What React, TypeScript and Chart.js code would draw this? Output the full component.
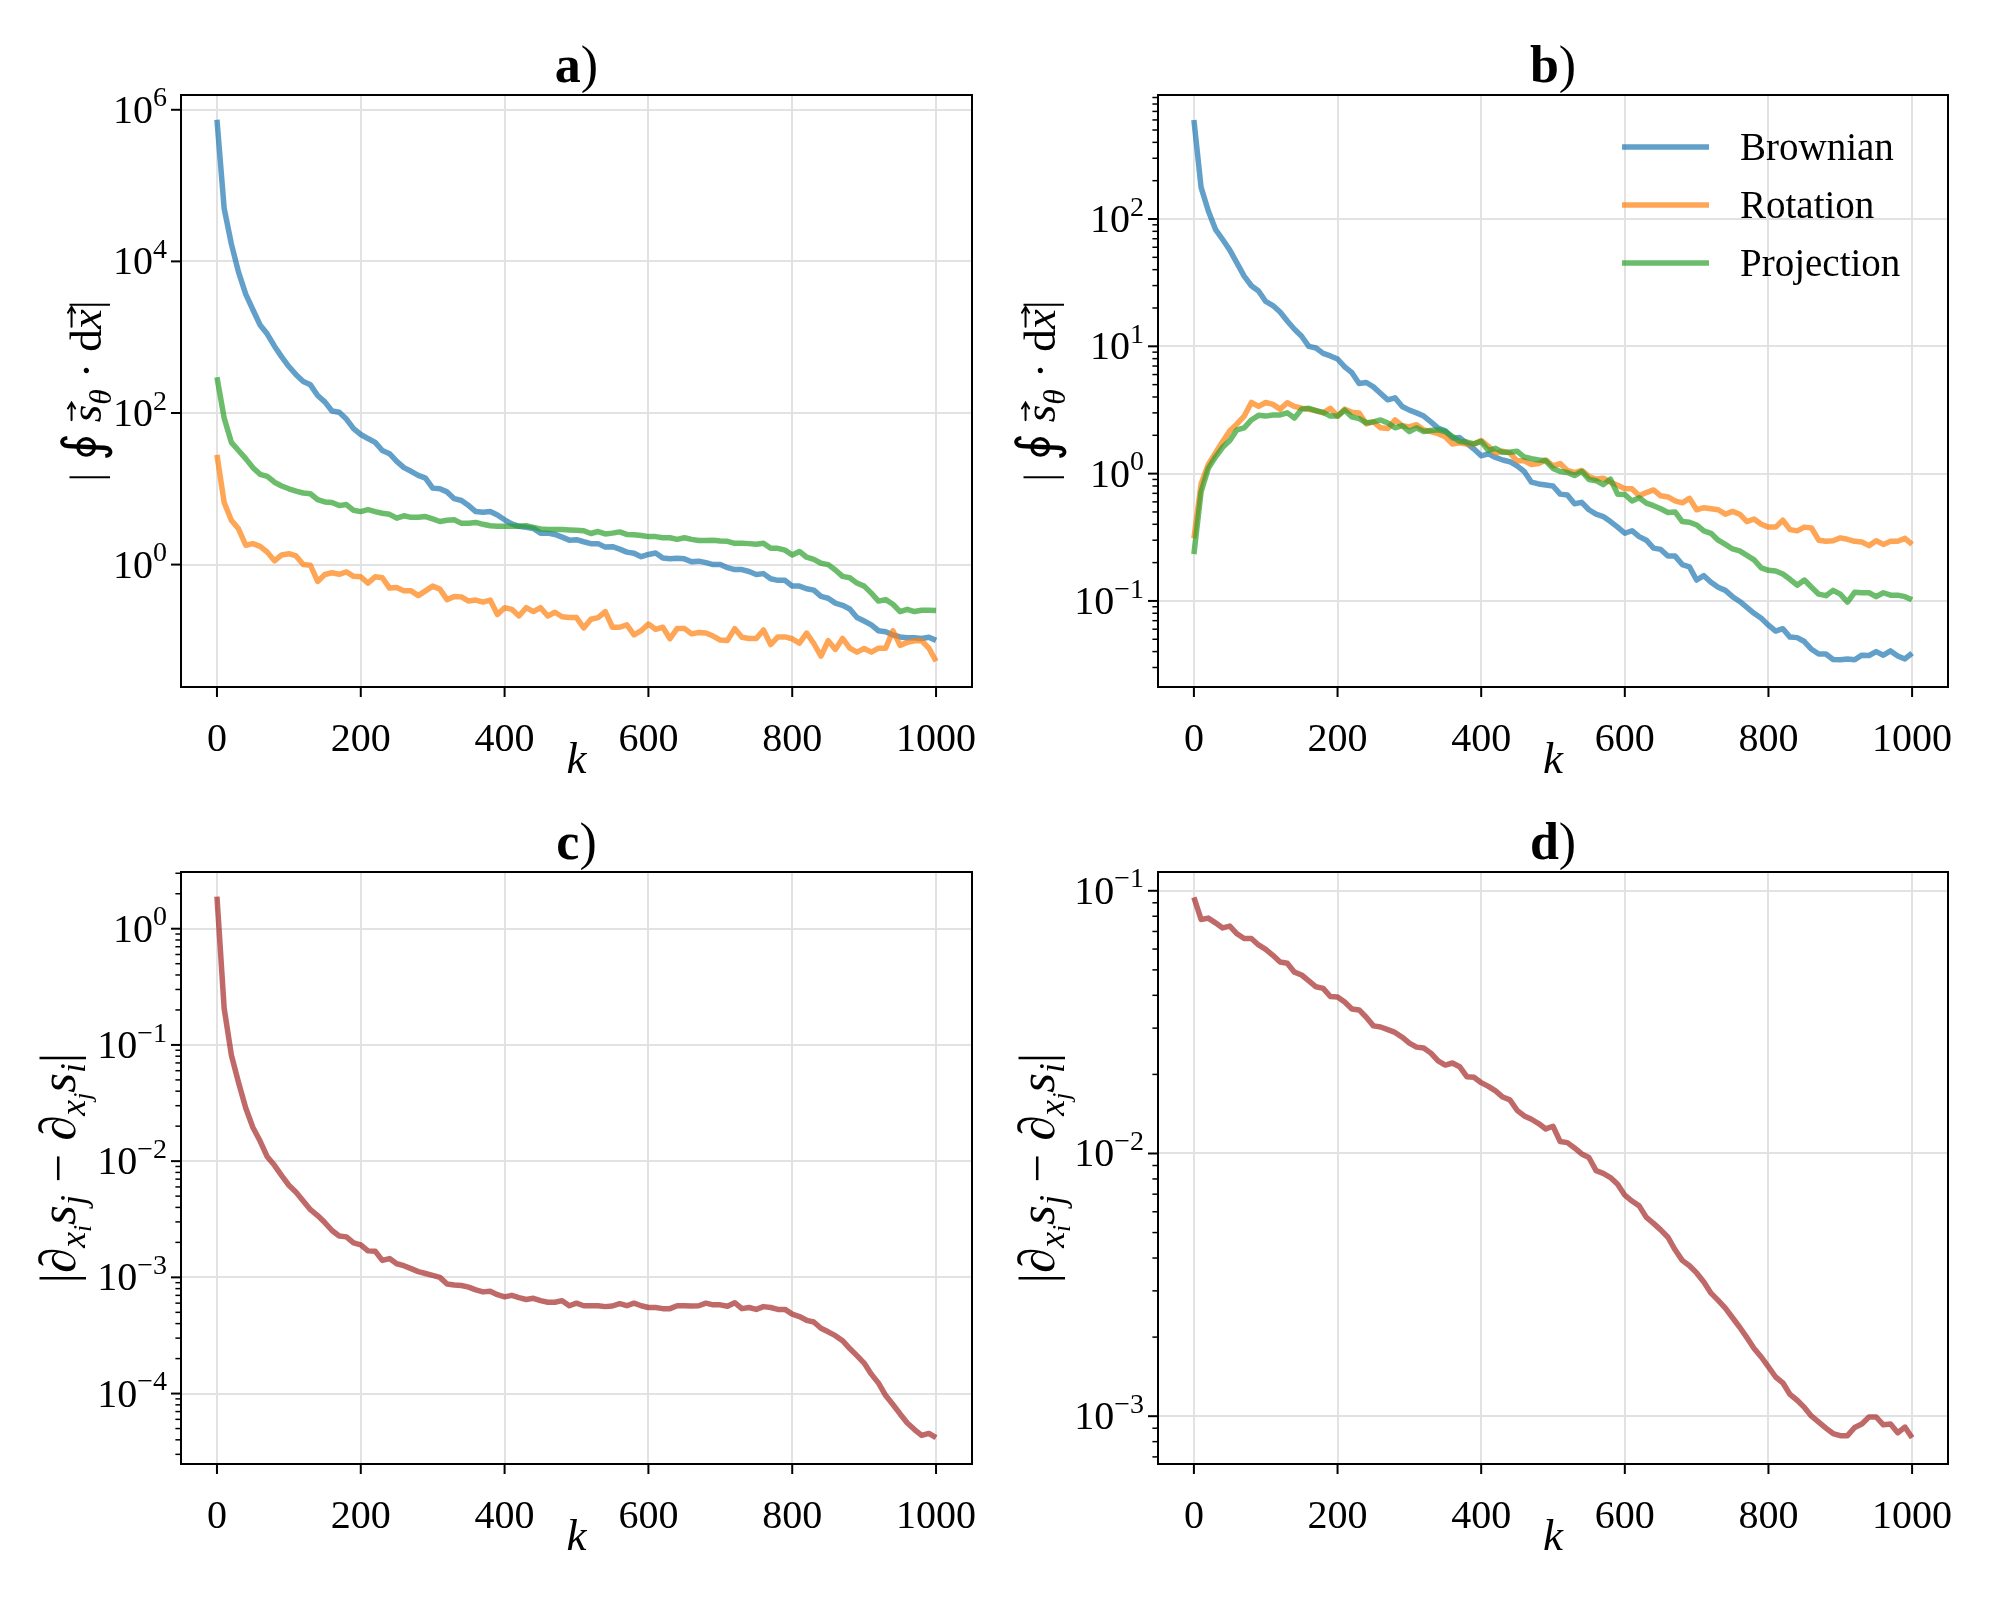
import React, { useEffect, useRef } from 'react';
import { Chart, registerables } from 'chart.js';

Chart.register(...registerables);

const SERIF = '"Liberation Serif", "DejaVu Serif", serif';
const TICK_FS = 40;
const LABEL_FS = 45;
const TITLE_FS = 52;
const LEGEND_FS = 39;
const LINE_W = 5.5;
const GRID = '#e2e2e2';

// ---- data ----
const K = [0, 10, 20, 30, 40, 50, 60, 70, 80, 90, 100, 110, 120, 130, 140, 150, 160, 170, 180, 190, 200, 210, 220, 230, 240, 250, 260, 270, 280, 290, 300, 310, 320, 330, 340, 350, 360, 370, 380, 390, 400, 410, 420, 430, 440, 450, 460, 470, 480, 490, 500, 510, 520, 530, 540, 550, 560, 570, 580, 590, 600, 610, 620, 630, 640, 650, 660, 670, 680, 690, 700, 710, 720, 730, 740, 750, 760, 770, 780, 790, 800, 810, 820, 830, 840, 850, 860, 870, 880, 890, 900, 910, 920, 930, 940, 950, 960, 970, 980, 990, 1000];

const SERIES_LABELS = ['Brownian', 'Rotation', 'Projection'];

const brownianA = [
  7.4e5, 5.0e4, 1.7e4, 7.2e3, 3.7e3, 2.3e3, 1450, 1100, 760, 550,
  410, 320, 260, 235, 170, 140, 106, 102, 83, 62,
  52, 46, 41, 32, 29, 23, 19, 17, 15, 13.8,
  10.2, 10, 9.1, 7.4, 7.0, 6.0, 5.0, 4.9, 5.0, 4.5,
  3.9, 3.45, 3.2, 3.1, 3.0, 2.6, 2.6, 2.5, 2.3, 2.1,
  2.13, 2.0, 1.89, 1.89, 1.7, 1.72, 1.6, 1.46, 1.41, 1.27,
  1.36, 1.42, 1.22, 1.19, 1.21, 1.19, 1.09, 1.11, 1.06, 1.0,
  1.0, 0.91, 0.86, 0.86, 0.81, 0.74, 0.76, 0.65, 0.62, 0.62,
  0.52, 0.52, 0.48, 0.46, 0.38, 0.36, 0.31, 0.29, 0.26, 0.2,
  0.18, 0.16, 0.134, 0.13, 0.118, 0.111, 0.108, 0.108, 0.106, 0.11,
  0.1,
];

const rotationA = [
  28, 6.6, 3.85, 2.96, 1.8, 1.89, 1.74, 1.46, 1.12, 1.34,
  1.39, 1.3, 1.0, 0.98, 0.6, 0.74, 0.78, 0.745, 0.8, 0.7,
  0.69, 0.57, 0.69, 0.67, 0.49, 0.5, 0.45, 0.45, 0.39, 0.45,
  0.52, 0.475, 0.345, 0.38, 0.375, 0.33, 0.34, 0.32, 0.34, 0.22,
  0.27, 0.257, 0.21, 0.27, 0.24, 0.27, 0.21, 0.235, 0.205, 0.2,
  0.2, 0.146, 0.19, 0.2, 0.24, 0.149, 0.149, 0.16, 0.118, 0.134,
  0.164, 0.14, 0.149, 0.105, 0.144, 0.144, 0.122, 0.127, 0.125, 0.114,
  0.101, 0.1, 0.143, 0.11, 0.106, 0.106, 0.137, 0.088, 0.111, 0.111,
  0.105, 0.092, 0.125, 0.091, 0.062, 0.099, 0.076, 0.106, 0.079, 0.07,
  0.078, 0.07, 0.079, 0.079, 0.134, 0.086, 0.094, 0.099, 0.099, 0.079,
  0.053,
];

const projectionA = [
  296, 86, 41, 32, 25, 19, 15.5, 14.6, 12.2, 10.9,
  10, 9.3, 8.8, 8.6, 7.2, 6.7, 6.6, 6.0, 6.2, 5.2,
  5.0, 5.3, 5.0, 4.75, 4.6, 4.1, 4.4, 4.2, 4.2, 4.3,
  4.0, 3.7, 3.85, 3.9, 3.5, 3.5, 3.6, 3.4, 3.25, 3.2,
  3.2, 3.2, 3.2, 3.25, 3.1, 2.95, 2.9, 2.9, 2.9, 2.86,
  2.83, 2.8, 2.57, 2.73, 2.54, 2.6, 2.7, 2.5, 2.48, 2.42,
  2.34, 2.34, 2.26, 2.26, 2.15, 2.26, 2.15, 2.08, 2.08, 2.1,
  2.05, 2.03, 1.91, 1.91, 1.89, 1.85, 1.91, 1.64, 1.64, 1.55,
  1.34, 1.49, 1.25, 1.17, 1.04, 1.0, 0.85, 0.7, 0.67, 0.57,
  0.52, 0.42, 0.33, 0.345, 0.3, 0.24, 0.257, 0.24, 0.25, 0.25,
  0.248,
];

const brownianB = [
  600, 177, 116, 83, 69, 57, 45, 35.6, 29.9, 27.2,
  22.5, 20.9, 18.6, 15.8, 13.6, 12.0, 10, 9.7, 8.8, 8.4,
  7.95, 6.9, 6.2, 5.1, 5.2, 4.8, 4.26, 3.8, 3.94, 3.37,
  3.15, 3.0, 2.83, 2.55, 2.28, 2.17, 1.9, 1.92, 1.73, 1.56,
  1.38, 1.43, 1.34, 1.28, 1.24, 1.15, 1.04, 0.857, 0.83, 0.815,
  0.8, 0.69, 0.68, 0.58, 0.595, 0.52, 0.48, 0.46, 0.42, 0.38,
  0.34, 0.356, 0.32, 0.3, 0.26, 0.254, 0.225, 0.225, 0.193, 0.185,
  0.146, 0.158, 0.14, 0.128, 0.121, 0.108, 0.099, 0.089, 0.08, 0.073,
  0.0645, 0.058, 0.0605, 0.052, 0.0515, 0.048, 0.0417, 0.0383, 0.0383, 0.0347,
  0.0345, 0.035, 0.0345, 0.0375, 0.0373, 0.04, 0.0375, 0.0405, 0.037, 0.035,
  0.0389,
];

const rotationB = [
  0.31, 0.83, 1.18, 1.45, 1.79, 2.17, 2.46, 2.83, 3.62, 3.37,
  3.62, 3.5, 3.21, 3.6, 3.37, 3.26, 3.2, 3.12, 3.0, 3.26,
  2.83, 3.21, 3.03, 3.0, 2.46, 2.55, 2.29, 2.26, 2.64, 2.38,
  2.33, 2.42, 2.2, 2.14, 2.06, 1.95, 1.71, 1.75, 1.71, 1.71,
  1.82, 1.64, 1.45, 1.5, 1.45, 1.26, 1.26, 1.18, 1.2, 1.28,
  1.15, 1.2, 1.06, 1.02, 1.06, 0.95, 0.906, 0.92, 0.857, 0.81,
  0.76, 0.76, 0.67, 0.71, 0.745, 0.67, 0.656, 0.61, 0.59, 0.64,
  0.52, 0.54, 0.53, 0.52, 0.48, 0.505, 0.48, 0.42, 0.44, 0.4,
  0.38, 0.38, 0.43, 0.363, 0.355, 0.38, 0.374, 0.3, 0.294, 0.297,
  0.313, 0.305, 0.294, 0.29, 0.272, 0.297, 0.278, 0.294, 0.294, 0.31,
  0.278,
];

const projectionB = [
  0.233, 0.72, 1.1, 1.35, 1.61, 1.82, 2.21, 2.29, 2.64, 2.87,
  2.83, 2.89, 2.89, 3.0, 2.73, 3.21, 3.26, 3.12, 3.03, 2.83,
  2.83, 3.15, 2.79, 2.7, 2.51, 2.55, 2.64, 2.5, 2.29, 2.38,
  2.14, 2.29, 2.14, 2.18, 2.21, 2.14, 1.96, 1.79, 1.77, 1.71,
  1.79, 1.52, 1.58, 1.47, 1.47, 1.5, 1.35, 1.31, 1.28, 1.26,
  1.1, 1.04, 1.02, 0.965, 1.04, 0.9, 0.88, 0.82, 0.906, 0.69,
  0.685, 0.61, 0.646, 0.586, 0.56, 0.53, 0.495, 0.5, 0.42, 0.415,
  0.395, 0.355, 0.34, 0.3, 0.278, 0.256, 0.247, 0.228, 0.21, 0.182,
  0.174, 0.172, 0.163, 0.148, 0.133, 0.146, 0.128, 0.113, 0.11, 0.121,
  0.113, 0.098, 0.117, 0.116, 0.116, 0.108, 0.116, 0.111, 0.111, 0.108,
  0.102,
];

const asymmetryC = [
  1.89, 0.207, 0.082, 0.0475, 0.0287, 0.0195, 0.0149, 0.0109, 0.0092, 0.0075,
  0.0062, 0.0054, 0.00454, 0.00382, 0.0034, 0.00296, 0.00253, 0.00227, 0.00223, 0.00198,
  0.0019, 0.00169, 0.00168, 0.0014, 0.00145, 0.00131, 0.00126, 0.00119, 0.00112, 0.00108,
  0.00104, 0.001, 0.000877, 0.00086, 0.00085, 0.000824, 0.00078, 0.00075, 0.00076, 0.00071,
  0.00068, 0.0007, 0.00067, 0.000645, 0.00066, 0.00063, 0.00061, 0.00061, 0.00063, 0.00057,
  0.0006, 0.00057, 0.00057, 0.00057, 0.00056, 0.000567, 0.000594, 0.00057, 0.0006, 0.00057,
  0.00055, 0.00055, 0.000538, 0.000538, 0.00057, 0.00057, 0.000567, 0.00057, 0.0006, 0.00058,
  0.00058, 0.000565, 0.000605, 0.000538, 0.00055, 0.00053, 0.00056, 0.00055, 0.00053, 0.00053,
  0.000483, 0.00046, 0.000427, 0.000413, 0.000365, 0.00034, 0.000315, 0.000285, 0.000244, 0.000212,
  0.000183, 0.000147, 0.000123, 0.0000962, 0.0000805, 0.0000668, 0.0000559, 0.000049, 0.0000436, 0.0000454,
  0.0000417,
];

const asymmetryD = [
  0.0944, 0.0778, 0.0787, 0.0755, 0.0722, 0.0734, 0.0686, 0.0658, 0.0658, 0.0622,
  0.0598, 0.0568, 0.0536, 0.053, 0.049, 0.0478, 0.0454, 0.0431, 0.0425, 0.0396,
  0.0394, 0.0377, 0.0355, 0.0352, 0.033, 0.0306, 0.0303, 0.0296, 0.0289, 0.0277,
  0.0263, 0.0254, 0.0252, 0.0241, 0.0225, 0.0217, 0.0221, 0.0214, 0.0196, 0.0195,
  0.0186, 0.018, 0.0173, 0.0164, 0.016, 0.0146, 0.0139, 0.0135, 0.013, 0.0124,
  0.0127, 0.0111, 0.011, 0.0105, 0.00996, 0.00965, 0.0086, 0.0084, 0.0081, 0.00764,
  0.00694, 0.00659, 0.00632, 0.00571, 0.00542, 0.00512, 0.0048, 0.0043, 0.00392, 0.00374,
  0.00351, 0.00324, 0.00294, 0.00276, 0.00258, 0.00237, 0.00218, 0.00199, 0.00181, 0.00168,
  0.00154, 0.00141, 0.00134, 0.00121, 0.00115, 0.00108, 0.001, 0.00095, 0.000901, 0.000859,
  0.000843, 0.000843, 0.000906, 0.000934, 0.000993, 0.000993, 0.000927, 0.000934, 0.000865, 0.000909,
  0.000828,
];

const X_TICKS = [0, 200, 400, 600, 800, 1000];

const C_BLUE = 'rgba(31,119,180,0.7)';
const C_ORANGE = 'rgba(255,127,14,0.7)';
const C_GREEN = 'rgba(44,160,44,0.7)';
const C_RED = 'rgba(165,42,42,0.7)';

// ---- rich text helpers ----
type Seg = { t: string; it?: boolean; b?: boolean; s?: number; dy?: number; arrow?: boolean };

function segFont(seg: Seg, size: number) {
  const px = size * (seg.s ?? 1);
  return `${seg.it ? 'italic ' : ''}${seg.b ? 'bold ' : ''}${px}px ${SERIF}`;
}

function richWidth(ctx: CanvasRenderingContext2D, segs: Seg[], size: number) {
  let w = 0;
  for (const s of segs) {
    ctx.font = segFont(s, size);
    w += ctx.measureText(s.t).width;
  }
  return w;
}

function drawRich(ctx: CanvasRenderingContext2D, segs: Seg[], size: number, x: number, y: number, align: 'left' | 'center' | 'right') {
  const w = richWidth(ctx, segs, size);
  let cx = align === 'center' ? x - w / 2 : align === 'right' ? x - w : x;
  ctx.textAlign = 'left';
  ctx.textBaseline = 'alphabetic';
  for (const seg of segs) {
    const fs = size * (seg.s ?? 1);
    ctx.font = segFont(seg, size);
    const tw = ctx.measureText(seg.t).width;
    const yy = y + (seg.dy ?? 0) * size;
    ctx.fillText(seg.t, cx, yy);
    if (seg.arrow) {
      const ay = yy - fs * 0.66;
      const x0 = cx + tw * 0.12;
      const x1 = cx + tw * 1.12;
      ctx.save();
      ctx.lineWidth = Math.max(1.5, fs * 0.045);
      ctx.lineCap = 'round';
      ctx.beginPath();
      ctx.moveTo(x0, ay);
      ctx.lineTo(x1, ay);
      ctx.moveTo(x1 - fs * 0.13, ay - fs * 0.08);
      ctx.lineTo(x1, ay);
      ctx.lineTo(x1 - fs * 0.13, ay + fs * 0.08);
      ctx.stroke();
      ctx.restore();
    }
    cx += tw;
  }
}

// ---- panel configuration ----
type Area = { left: number; right: number; top: number; bottom: number };
type SeriesCfg = { label: string; values: number[]; color: string; order: number };
type PanelCfg = {
  id: string;
  posX: number;
  posY: number;
  area: Area;
  yMinExp: number;
  yMaxExp: number;
  majorExps: number[];
  minors: boolean;
  series: SeriesCfg[];
  title: string;
  ylabel: Seg[];
  ylabelX: number;
  ylabelFs: number;
  legend?: boolean;
};

const CANVAS_W = 1000;
const CANVAS_H = 800;

const LABEL_CIRCULATION: Seg[] = [
  { t: '| ' },
  { t: '\u222E', s: 1.2 },
  { t: ' ' },
  { t: 's', it: true, arrow: true },
  { t: '\u03B8', it: true, s: 0.7, dy: 0.22 },
  { t: ' \u00B7 d' },
  { t: 'x', it: true, arrow: true },
  { t: '|' },
];

const LABEL_ASYM: Seg[] = [
  { t: '|\u2202' },
  { t: 'x', it: true, s: 0.7, dy: 0.2 },
  { t: 'i', it: true, s: 0.5, dy: 0.32 },
  { t: 's', it: true },
  { t: 'j', it: true, s: 0.7, dy: 0.2 },
  { t: ' \u2212 \u2202' },
  { t: 'x', it: true, s: 0.7, dy: 0.2 },
  { t: 'j', it: true, s: 0.5, dy: 0.32 },
  { t: 's', it: true },
  { t: 'i', it: true, s: 0.7, dy: 0.2 },
  { t: '|' },
];

const PANELS: PanelCfg[] = [
  {
    id: 'a', posX: 0, posY: 0,
    area: { left: 181, right: 972, top: 95, bottom: 687 },
    yMinExp: -1.615, yMaxExp: 6.195, majorExps: [0, 2, 4, 6], minors: false,
    series: [
      { label: SERIES_LABELS[0], values: brownianA, color: C_BLUE, order: 3 },
      { label: SERIES_LABELS[1], values: rotationA, color: C_ORANGE, order: 2 },
      { label: SERIES_LABELS[2], values: projectionA, color: C_GREEN, order: 1 },
    ],
    title: 'a', ylabel: LABEL_CIRCULATION, ylabelX: 90, ylabelFs: 45,
  },
  {
    id: 'b', posX: 1000, posY: 0,
    area: { left: 158, right: 948, top: 95, bottom: 687 },
    yMinExp: -1.676, yMaxExp: 2.974, majorExps: [-1, 0, 1, 2], minors: true,
    series: [
      { label: SERIES_LABELS[0], values: brownianB, color: C_BLUE, order: 3 },
      { label: SERIES_LABELS[1], values: rotationB, color: C_ORANGE, order: 2 },
      { label: SERIES_LABELS[2], values: projectionB, color: C_GREEN, order: 1 },
    ],
    title: 'b', ylabel: LABEL_CIRCULATION, ylabelX: 44, ylabelFs: 45, legend: true,
  },
  {
    id: 'c', posX: 0, posY: 800,
    area: { left: 181, right: 972, top: 72, bottom: 664 },
    yMinExp: -4.606, yMaxExp: 0.488, majorExps: [-4, -3, -2, -1, 0], minors: true,
    series: [{ label: 'asymmetry', values: asymmetryC, color: C_RED, order: 1 }],
    title: 'c', ylabel: LABEL_ASYM, ylabelX: 62, ylabelFs: 51,
  },
  {
    id: 'd', posX: 1000, posY: 800,
    area: { left: 158, right: 948, top: 72, bottom: 664 },
    yMinExp: -3.182, yMaxExp: -0.9285, majorExps: [-3, -2, -1], minors: true,
    series: [{ label: 'asymmetry', values: asymmetryD, color: C_RED, order: 1 }],
    title: 'd', ylabel: LABEL_ASYM, ylabelX: 41, ylabelFs: 51,
  },
];

function buildYTicks(cfg: PanelCfg) {
  const ticks: { value: number; major: boolean }[] = [];
  for (const e of cfg.majorExps) ticks.push({ value: Math.pow(10, e), major: true });
  if (cfg.minors) {
    for (let e = Math.floor(cfg.yMinExp); e <= Math.ceil(cfg.yMaxExp); e++) {
      for (let m = 2; m <= 9; m++) {
        const lv = e + Math.log10(m);
        if (lv >= cfg.yMinExp && lv <= cfg.yMaxExp) ticks.push({ value: m * Math.pow(10, e), major: false });
      }
    }
  }
  ticks.sort((p, q) => p.value - q.value);
  return ticks;
}

function makeDecor(cfg: PanelCfg) {
  return {
    id: 'decor_' + cfg.id,
    afterDraw(chart: any) {
      const ctx = chart.ctx as CanvasRenderingContext2D;
      const a = chart.chartArea;
      const xs = chart.scales.x;
      const ys = chart.scales.y;
      ctx.save();
      ctx.fillStyle = '#000';
      ctx.strokeStyle = '#000';
      ctx.lineCap = 'butt';

      // x ticks and labels
      for (const t of xs.ticks) {
        const px = xs.getPixelForValue(t.value);
        ctx.lineWidth = 2;
        ctx.beginPath();
        ctx.moveTo(px, a.bottom);
        ctx.lineTo(px, a.bottom + 10);
        ctx.stroke();
        drawRich(ctx, [{ t: String(t.value) }], TICK_FS, px, a.bottom + 64, 'center');
      }

      // y ticks and labels
      for (const t of ys.ticks) {
        const py = ys.getPixelForValue(t.value);
        const len = t.major ? 10 : 5.6;
        ctx.lineWidth = t.major ? 2 : 1.5;
        ctx.beginPath();
        ctx.moveTo(a.left - len, py);
        ctx.lineTo(a.left, py);
        ctx.stroke();
        if (t.major) {
          const e = Math.round(Math.log10(t.value));
          drawRich(
            ctx,
            [{ t: '10' }, { t: String(e).replace('-', '\u2212'), s: 0.7, dy: -0.41 }],
            TICK_FS,
            a.left - 14,
            py + 13,
            'right'
          );
        }
      }

      // frame (all four spines)
      ctx.lineWidth = 2;
      ctx.strokeRect(a.left, a.top, a.right - a.left, a.bottom - a.top);

      // x label
      drawRich(ctx, [{ t: 'k', it: true }], LABEL_FS, (a.left + a.right) / 2, a.bottom + 86, 'center');

      // y label
      ctx.save();
      ctx.translate(cfg.ylabelX + 0.25 * cfg.ylabelFs, (a.top + a.bottom) / 2);
      ctx.rotate(-Math.PI / 2);
      drawRich(ctx, cfg.ylabel, cfg.ylabelFs, 0, 0, 'center');
      ctx.restore();

      // title
      drawRich(ctx, [{ t: cfg.title, b: true }, { t: ')' }], TITLE_FS, (a.left + a.right) / 2, a.top - 13, 'center');

      // legend
      if (cfg.legend) {
        const rows = [147, 205, 263];
        chart.data.datasets.forEach((ds: any, i: number) => {
          const y = rows[i];
          ctx.strokeStyle = ds.borderColor;
          ctx.lineWidth = LINE_W;
          ctx.beginPath();
          ctx.moveTo(622, y);
          ctx.lineTo(709, y);
          ctx.stroke();
          ctx.fillStyle = '#000';
          ctx.font = `${LEGEND_FS}px ${SERIF}`;
          ctx.textAlign = 'left';
          ctx.textBaseline = 'alphabetic';
          ctx.fillText(ds.label, 740, y + 13);
        });
      }
      ctx.restore();
    },
  };
}

function Panel({ cfg }: { cfg: PanelCfg }) {
  const ref = useRef<HTMLCanvasElement | null>(null);
  useEffect(() => {
    if (!ref.current) return;
    const yTicks = buildYTicks(cfg);
    const chart = new Chart(ref.current, {
      type: 'line',
      data: {
        datasets: cfg.series.map((s) => ({
          label: s.label,
          data: K.map((k, i) => ({ x: k, y: s.values[i] })),
          borderColor: s.color,
          backgroundColor: s.color,
          borderWidth: LINE_W,
          pointRadius: 0,
          pointHoverRadius: 0,
          fill: false,
          tension: 0,
          borderJoinStyle: 'round',
          borderCapStyle: 'butt',
          order: s.order,
        })),
      },
      options: {
        responsive: false,
        animation: false,
        devicePixelRatio: 1,
        events: [],
        layout: {
          padding: { left: 0, right: CANVAS_W - cfg.area.right, top: cfg.area.top, bottom: 0 },
        },
        plugins: {
          legend: { display: false },
          tooltip: { enabled: false },
          title: { display: false },
        },
        scales: {
          x: {
            type: 'linear',
            min: -50,
            max: 1050,
            afterBuildTicks: (scale: any) => {
              scale.ticks = X_TICKS.map((v) => ({ value: v, major: true }));
            },
            afterFit: (scale: any) => {
              scale.height = CANVAS_H - cfg.area.bottom;
            },
            ticks: { display: false, autoSkip: false },
            grid: { color: GRID, lineWidth: 2, drawTicks: false },
            border: { display: false },
          },
          y: {
            type: 'logarithmic',
            min: Math.pow(10, cfg.yMinExp),
            max: Math.pow(10, cfg.yMaxExp),
            afterBuildTicks: (scale: any) => {
              scale.ticks = yTicks.map((t) => ({ value: t.value, major: t.major }));
            },
            afterFit: (scale: any) => {
              scale.width = cfg.area.left;
            },
            ticks: { display: false, autoSkip: false },
            grid: {
              color: (c: any) => (c.tick && c.tick.major ? GRID : 'rgba(0,0,0,0)'),
              lineWidth: 2,
              drawTicks: false,
            },
            border: { display: false },
          },
        },
      } as any,
      plugins: [makeDecor(cfg)],
    });
    return () => chart.destroy();
  }, [cfg]);
  return (
    <canvas
      ref={ref}
      width={CANVAS_W}
      height={CANVAS_H}
      style={{ position: 'absolute', left: cfg.posX, top: cfg.posY, width: CANVAS_W, height: CANVAS_H }}
    />
  );
}

export default function App() {
  return (
    <div style={{ position: 'absolute', left: 0, top: 0, width: 2000, height: 1600, background: '#fff' }}>
      {PANELS.map((p) => (
        <Panel key={p.id} cfg={p} />
      ))}
    </div>
  );
}
